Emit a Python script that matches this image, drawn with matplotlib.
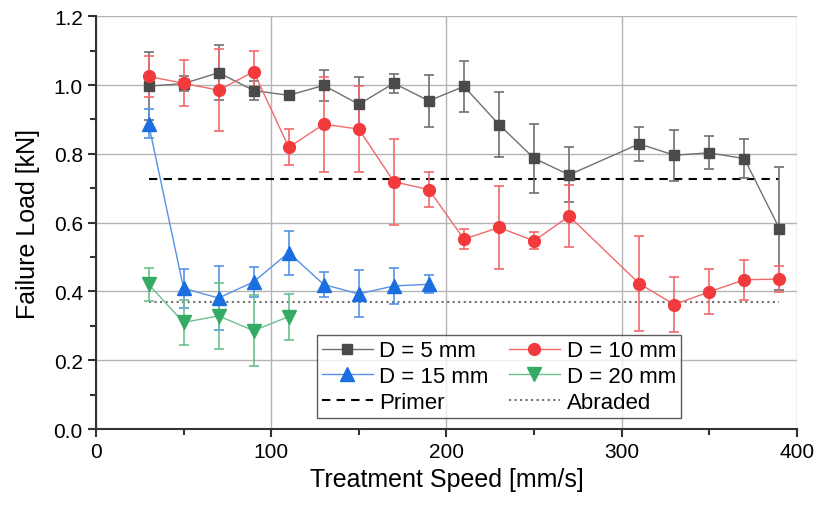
import numpy as np
import matplotlib.pyplot as plt
from matplotlib.ticker import MultipleLocator

plt.rcParams['font.family'] = ['Liberation Sans', 'DejaVu Sans']

# treatment speeds [mm/s]
speed_5 = [30, 50, 70, 90, 110, 130, 150, 170, 190, 210, 230, 250, 270, 310, 330, 350, 370, 390]
load_5 = [0.997, 1.004, 1.036, 0.984, 0.970, 0.999, 0.944, 1.005, 0.954, 0.996, 0.885, 0.787, 0.739,
          0.829, 0.796, 0.803, 0.786, 0.583]
err_5 = [0.10, 0.022, 0.08, 0.028, 0.01, 0.045, 0.078, 0.027, 0.075, 0.073, 0.095, 0.10, 0.08,
         0.05, 0.074, 0.048, 0.057, 0.18]

speed_10 = [30, 50, 70, 90, 110, 130, 150, 170, 190, 210, 230, 250, 270, 310, 330, 350, 370, 390]
load_10 = [1.025, 1.005, 0.985, 1.039, 0.819, 0.886, 0.872, 0.719, 0.696, 0.552, 0.586, 0.547, 0.619,
           0.423, 0.362, 0.399, 0.434, 0.436]
err_10 = [0.06, 0.067, 0.12, 0.06, 0.052, 0.138, 0.124, 0.125, 0.05, 0.03, 0.12, 0.025, 0.09,
          0.137, 0.08, 0.065, 0.058, 0.038]

speed_15 = [30, 50, 70, 90, 110, 130, 150, 170, 190]
load_15 = [0.888, 0.409, 0.381, 0.428, 0.513, 0.420, 0.393, 0.416, 0.421]
err_15 = [0.041, 0.057, 0.093, 0.043, 0.064, 0.037, 0.068, 0.053, 0.026]

speed_20 = [30, 50, 70, 90, 110]
load_20 = [0.421, 0.310, 0.329, 0.286, 0.327]
err_20 = [0.048, 0.065, 0.095, 0.103, 0.067]

primer = 0.726
abraded = 0.369
ref_range = [30, 390]

fig = plt.figure(figsize=(8.16, 5.06), dpi=100)
ax = fig.add_axes([0.1176, 0.150, 0.859, 0.816])

ax.grid(True, color='#b4b4b4', linewidth=1.0, zorder=0)
ax.set_axisbelow(True)

l_primer, = ax.plot(ref_range, [primer, primer], '--', color='black', lw=1.5, dashes=(4, 3), zorder=2)
l_abr, = ax.plot(ref_range, [abraded, abraded], ':', color='#707070', lw=1.5, zorder=2)

series = [
    (speed_5, load_5, err_5, 's', '#4a4a4a', '#707070', 7.5, 'D = 5 mm'),
    (speed_15, load_15, err_15, '^', '#1a6ee0', '#5592e6', 9.5, 'D = 15 mm'),
    (speed_20, load_20, err_20, 'v', '#35aa65', '#6cc08f', 9.5, 'D = 20 mm'),
    (speed_10, load_10, err_10, 'o', '#f03a3c', '#f06a6c', 8.5, 'D = 10 mm'),
]
handles = {}
for x, y, e, m, c, lc, ms, lab in series:
    ax.errorbar(x, y, yerr=e, fmt='none', ecolor=lc, elinewidth=1.2, capsize=3.5, capthick=1.2, zorder=3)
    h, = ax.plot(x, y, '-', color=lc, lw=1.0, marker=m, ms=ms, mfc=c, mec=c, zorder=4)
    handles[lab] = h

ax.set_xlim(0, 400)
ax.set_ylim(0, 1.2)
ax.xaxis.set_major_locator(MultipleLocator(100))
ax.xaxis.set_minor_locator(MultipleLocator(50))
ax.yaxis.set_major_locator(MultipleLocator(0.2))
ax.yaxis.set_minor_locator(MultipleLocator(0.1))
ax.yaxis.set_major_formatter(plt.FormatStrFormatter('%.1f'))

for s in ['top', 'right']:
    ax.spines[s].set_visible(False)
for s in ['left', 'bottom']:
    ax.spines[s].set_linewidth(1.5)
    ax.spines[s].set_color('#333333')
ax.tick_params(which='major', direction='out', length=6, width=1.5, color='#333333', labelsize=15)
ax.tick_params(which='minor', direction='out', length=4, width=1.5, color='#333333')

ax.set_xlabel('Treatment Speed [mm/s]', fontsize=18, labelpad=4)
ax.set_ylabel('Failure Load [kN]', fontsize=18, labelpad=10)

order = [handles['D = 5 mm'], handles['D = 15 mm'], l_primer,
         handles['D = 10 mm'], handles['D = 20 mm'], l_abr]
labels = ['D = 5 mm', 'D = 15 mm', 'Primer', 'D = 10 mm', 'D = 20 mm', 'Abraded']
leg = ax.legend(order, labels, ncol=2, loc='lower left', bbox_to_anchor=(0.315, 0.027),
                fontsize=16, frameon=True, fancybox=False, edgecolor='#333333',
                handlelength=2.3, handletextpad=0.3, columnspacing=0.9, labelspacing=0.22,
                borderpad=0.22, borderaxespad=0)
leg.get_frame().set_linewidth(1.0)
leg.set_zorder(10)

fig.savefig('out.png', dpi=100)
